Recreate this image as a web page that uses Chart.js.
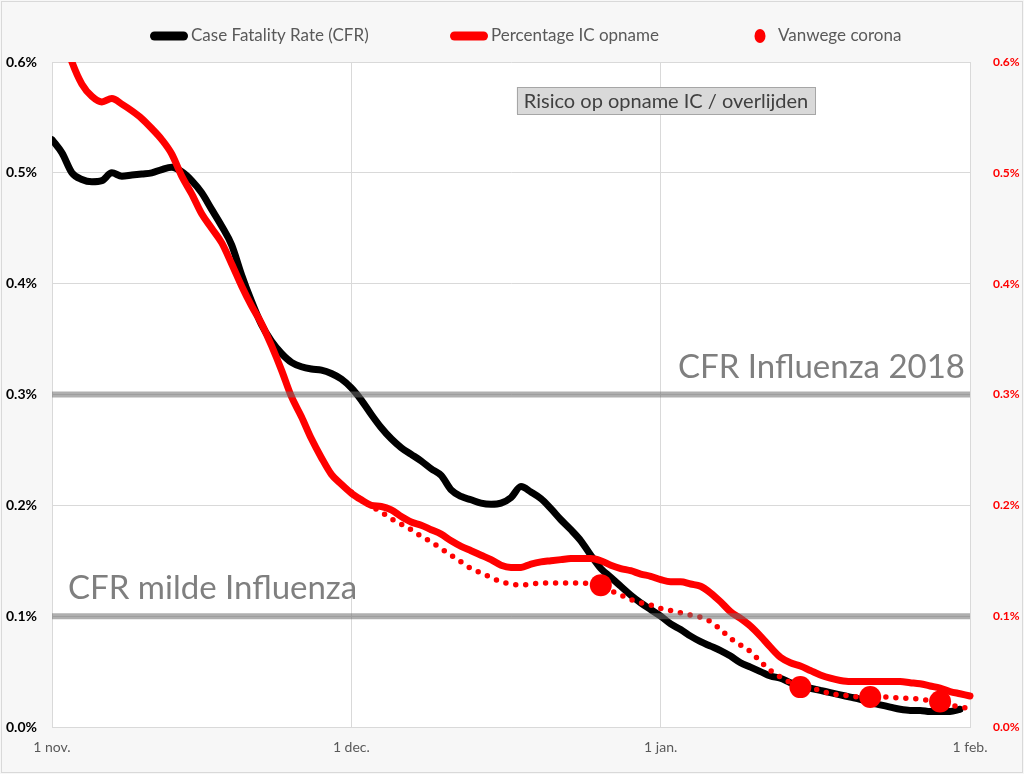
<!DOCTYPE html>
<html>
<head>
<meta charset="utf-8">
<script src="https://cdn.jsdelivr.net/npm/chart.js@4.4.1/dist/chart.umd.min.js"></script>
<style>
  html, body { margin: 0; padding: 0; background: #f7f7f7; }
</style>
</head>
<body>
<canvas id="grafico_risico" width="1024" height="774"></canvas>
<script>
// ---------- Data (x = days since 1 nov.) ----------
const monthDays = [0, 30, 61, 92];
const monthLabels = ["1 nov.", "1 dec.", "1 jan.", "1 feb."];
const yTicks = [0, 0.1, 0.2, 0.3, 0.4, 0.5, 0.6];

const seriesLabels = ["Case Fatality Rate (CFR)", "Percentage IC opname", "Vanwege corona"];

// CFR (%), one value per day from 1 nov.
const cfrStart = 0;
const cfrValues = [
  0.530, 0.518, 0.500, 0.494, 0.492, 0.493, 0.500, 0.497, 0.498, 0.499,
  0.500, 0.503, 0.505, 0.501, 0.493, 0.482, 0.467, 0.452, 0.435, 0.408,
  0.384, 0.363, 0.348, 0.337, 0.329, 0.325, 0.323, 0.322, 0.319, 0.314,
  0.306, 0.295, 0.282, 0.270, 0.260, 0.252, 0.246, 0.240, 0.233, 0.227,
  0.214, 0.208, 0.205, 0.202, 0.201, 0.202, 0.207, 0.217, 0.212, 0.206,
  0.197, 0.187, 0.178, 0.168, 0.155, 0.143, 0.135, 0.127, 0.119, 0.112,
  0.106, 0.100, 0.093, 0.088, 0.082, 0.077, 0.073, 0.069, 0.064, 0.058,
  0.054, 0.050, 0.046, 0.044, 0.040, 0.037, 0.035, 0.033, 0.031, 0.029,
  0.027, 0.025, 0.022, 0.020, 0.018, 0.016, 0.015, 0.015, 0.014, 0.014,
  0.014, 0.016
];

// Percentage IC opname (%)
const icStart = 0;
const icValues = [
  0.665, 0.628, 0.600, 0.580, 0.569, 0.564, 0.567, 0.562, 0.556, 0.549,
  0.540, 0.530, 0.517, 0.497, 0.481, 0.463, 0.450, 0.437, 0.418, 0.398,
  0.380, 0.364, 0.344, 0.322, 0.298, 0.280, 0.260, 0.243, 0.228, 0.219,
  0.211, 0.205, 0.200, 0.199, 0.196, 0.190, 0.185, 0.182, 0.178, 0.174,
  0.168, 0.163, 0.159, 0.155, 0.151, 0.146, 0.144, 0.144, 0.147, 0.149,
  0.150, 0.151, 0.152, 0.152, 0.152, 0.150, 0.146, 0.143, 0.141, 0.138,
  0.136, 0.133, 0.131, 0.131, 0.129, 0.127, 0.121, 0.113, 0.104, 0.098,
  0.091, 0.082, 0.072, 0.063, 0.058, 0.055, 0.051, 0.047, 0.044, 0.042,
  0.041, 0.041, 0.041, 0.041, 0.041, 0.041, 0.040, 0.039, 0.037, 0.035,
  0.032, 0.030, 0.028, 0.026
];

// Vanwege corona (%), from 1 dec.
const coronaStart = 30;
const coronaValues = [
  0.212, 0.205, 0.199, 0.194, 0.188, 0.183, 0.178, 0.172, 0.167, 0.161,
  0.155, 0.149, 0.143, 0.139, 0.135, 0.131, 0.129, 0.128, 0.129, 0.130,
  0.130, 0.130, 0.130, 0.130, 0.129, 0.128, 0.123, 0.119, 0.115, 0.112,
  0.110, 0.107, 0.105, 0.103, 0.101, 0.099, 0.095, 0.088, 0.080, 0.074,
  0.068, 0.059, 0.051, 0.045, 0.040, 0.036, 0.035, 0.033, 0.030, 0.029,
  0.028, 0.027, 0.027, 0.027, 0.027, 0.026, 0.026, 0.025, 0.024, 0.023,
  0.020, 0.018, 0.017
];
const coronaMarkerDays = [55, 75, 82, 89];

// referentielijnen
const influenzaLevels = [0.3, 0.1];
const influenzaLabels = ["CFR Influenza 2018", "CFR milde Influenza"];
const boxText = "Risico op opname IC / overlijden";

const FONT = "Lato";

function toPoints(start, values) {
  return values.map((v, i) => ({ x: start + i, y: v }));
}

// ---------- Plugins ----------
const achtergrond = {
  id: "achtergrond",
  beforeDraw(chart) {
    const { ctx, chartArea: a, width, height } = chart;
    ctx.save();
    ctx.fillStyle = "#f7f7f7";
    ctx.fillRect(0, 0, width, height);
    ctx.strokeStyle = "#d9d9d9";
    ctx.lineWidth = 1;
    ctx.strokeRect(1.5, 1.5, width - 3, height - 3);
    ctx.fillStyle = "#ffffff";
    ctx.fillRect(a.left, a.top, a.right - a.left, a.bottom - a.top);
    ctx.restore();
  }
};

const teksten = {
  id: "teksten",
  afterDatasetsDraw(chart) {
    const { ctx, chartArea: a } = chart;
    const y = chart.scales.y;
    ctx.save();
    // grote labels bij de referentielijnen
    ctx.fillStyle = "#7f7f7f";
    ctx.font = "33px " + FONT;
    ctx.textBaseline = "alphabetic";
    ctx.textAlign = "right";
    ctx.fillText(influenzaLabels[0], a.right - 5, y.getPixelForValue(influenzaLevels[0]) - 17);
    ctx.textAlign = "left";
    ctx.fillText(influenzaLabels[1], a.left + 16, y.getPixelForValue(influenzaLevels[1]) - 17);

    // tekstvak
    ctx.font = "20px " + FONT;
    const tw = ctx.measureText(boxText).width;
    const cx = 666, top = 87, h = 27;
    ctx.fillStyle = "#d9d9d9";
    ctx.fillRect(cx - tw / 2 - 7, top, tw + 14, h);
    ctx.strokeStyle = "#a6a6a6";
    ctx.lineWidth = 1;
    ctx.strokeRect(Math.round(cx - tw / 2 - 7) + 0.5, top + 0.5, Math.round(tw + 14), h);
    ctx.fillStyle = "#404040";
    ctx.textAlign = "center";
    ctx.textBaseline = "middle";
    ctx.fillText(boxText, cx, top + h / 2 + 1);
    ctx.restore();
  }
};

const legenda = {
  id: "legenda",
  afterDraw(chart) {
    const ctx = chart.ctx;
    const ds = chart.data.datasets;
    ctx.save();
    ctx.font = "17px " + FONT;
    const itemX = [150, 450, 754];
    const markerW = [38, 38, 12];
    const textGap = [3, 3, 12];
    const yc = 36;
    [0, 1, 2].forEach(i => {
      const x = itemX[i];
      if (i < 2) {
        ctx.strokeStyle = ds[i].borderColor;
        ctx.lineWidth = 9;
        ctx.lineCap = "round";
        ctx.beginPath();
        ctx.moveTo(x + 4.5, yc);
        ctx.lineTo(x + markerW[i] - 4.5, yc);
        ctx.stroke();
      } else {
        ctx.fillStyle = ds[i].pointBackgroundColor;
        ctx.beginPath();
        ctx.ellipse(x + 6, yc, 5.5, 7, 0, 0, Math.PI * 2);
        ctx.fill();
      }
      ctx.fillStyle = "#595959";
      ctx.textAlign = "left";
      ctx.textBaseline = "middle";
      ctx.fillText(ds[i].label, x + markerW[i] + textGap[i], yc);
    });
    ctx.restore();
  }
};

// ---------- Gráfico ----------
const ctx1 = document.getElementById("grafico_risico").getContext("2d");
new Chart(ctx1, {
  type: "line",
  data: {
    datasets: [
      {
        label: seriesLabels[0],
        data: toPoints(cfrStart, cfrValues),
        borderColor: "#000000",
        borderWidth: 7,
        borderCapStyle: "round",
        borderJoinStyle: "round",
        pointRadius: 0,
        cubicInterpolationMode: "monotone",
        yAxisID: "y",
        order: 3
      },
      {
        label: seriesLabels[1],
        data: toPoints(icStart, icValues),
        borderColor: "#ff0000",
        borderWidth: 7,
        borderCapStyle: "round",
        borderJoinStyle: "round",
        pointRadius: 0,
        cubicInterpolationMode: "monotone",
        yAxisID: "y2",
        clip: { left: 0, top: 0, right: 6, bottom: 0 },
        order: 2
      },
      {
        label: seriesLabels[2],
        data: toPoints(coronaStart, coronaValues),
        borderColor: "#ff0000",
        borderWidth: 5.5,
        borderDash: [0, 10],
        borderCapStyle: "round",
        pointRadius: (c) => (c.raw && coronaMarkerDays.includes(c.raw.x) ? 11 : 0),
        pointBackgroundColor: "#ff0000",
        pointBorderWidth: 0,
        cubicInterpolationMode: "monotone",
        yAxisID: "y2",
        clip: { left: 0, top: 0, right: 6, bottom: 0 },
        order: 1
      },
      ...influenzaLevels.map((lvl, i) => ({
        label: influenzaLabels[i],
        data: [{ x: monthDays[0], y: lvl }, { x: monthDays[monthDays.length - 1], y: lvl }],
        borderColor: "rgba(110, 110, 110, 0.55)",
        borderWidth: 6,
        pointRadius: 0,
        yAxisID: "y",
        order: 0
      }))
    ]
  },
  options: {
    responsive: false,
    animation: false,
    layout: { padding: { top: 62, left: 0, right: 0, bottom: 0 } },
    plugins: {
      legend: { display: false },
      title: { display: false },
      tooltip: { enabled: false }
    },
    scales: {
      x: {
        type: "linear",
        min: monthDays[0],
        max: monthDays[monthDays.length - 1],
        afterBuildTicks: (s) => { s.ticks = monthDays.map(v => ({ value: v })); },
        afterFit: (s) => { s.height = 47; },
        ticks: {
          autoSkip: false,
          maxRotation: 0,
          padding: 12,
          color: "#595959",
          font: { family: FONT, size: 14 },
          callback: (v, i) => monthLabels[i]
        },
        grid: { color: "#d9d9d9", drawTicks: false },
        border: { color: "#d9d9d9" }
      },
      y: {
        position: "left",
        min: 0,
        max: 0.6,
        afterBuildTicks: (s) => { s.ticks = yTicks.map(v => ({ value: v })); },
        afterFit: (s) => { s.width = 52; },
        ticks: {
          padding: 15,
          color: "#000000",
          font: { family: FONT, size: 14, weight: "bold" },
          callback: (v) => v.toFixed(1) + "%"
        },
        grid: { color: "#d9d9d9", drawTicks: false },
        border: { color: "#d9d9d9" }
      },
      y2: {
        position: "right",
        min: 0,
        max: 0.6,
        afterBuildTicks: (s) => { s.ticks = yTicks.map(v => ({ value: v })); },
        afterFit: (s) => { s.width = 54; },
        ticks: {
          padding: 23,
          color: "#ff0000",
          font: { family: FONT, size: 12, weight: "bold" },
          callback: (v) => v.toFixed(1) + "%"
        },
        grid: { drawOnChartArea: false, drawTicks: false },
        border: { color: "#d9d9d9" }
      }
    }
  },
  plugins: [achtergrond, teksten, legenda]
});
</script>
</body>
</html>
